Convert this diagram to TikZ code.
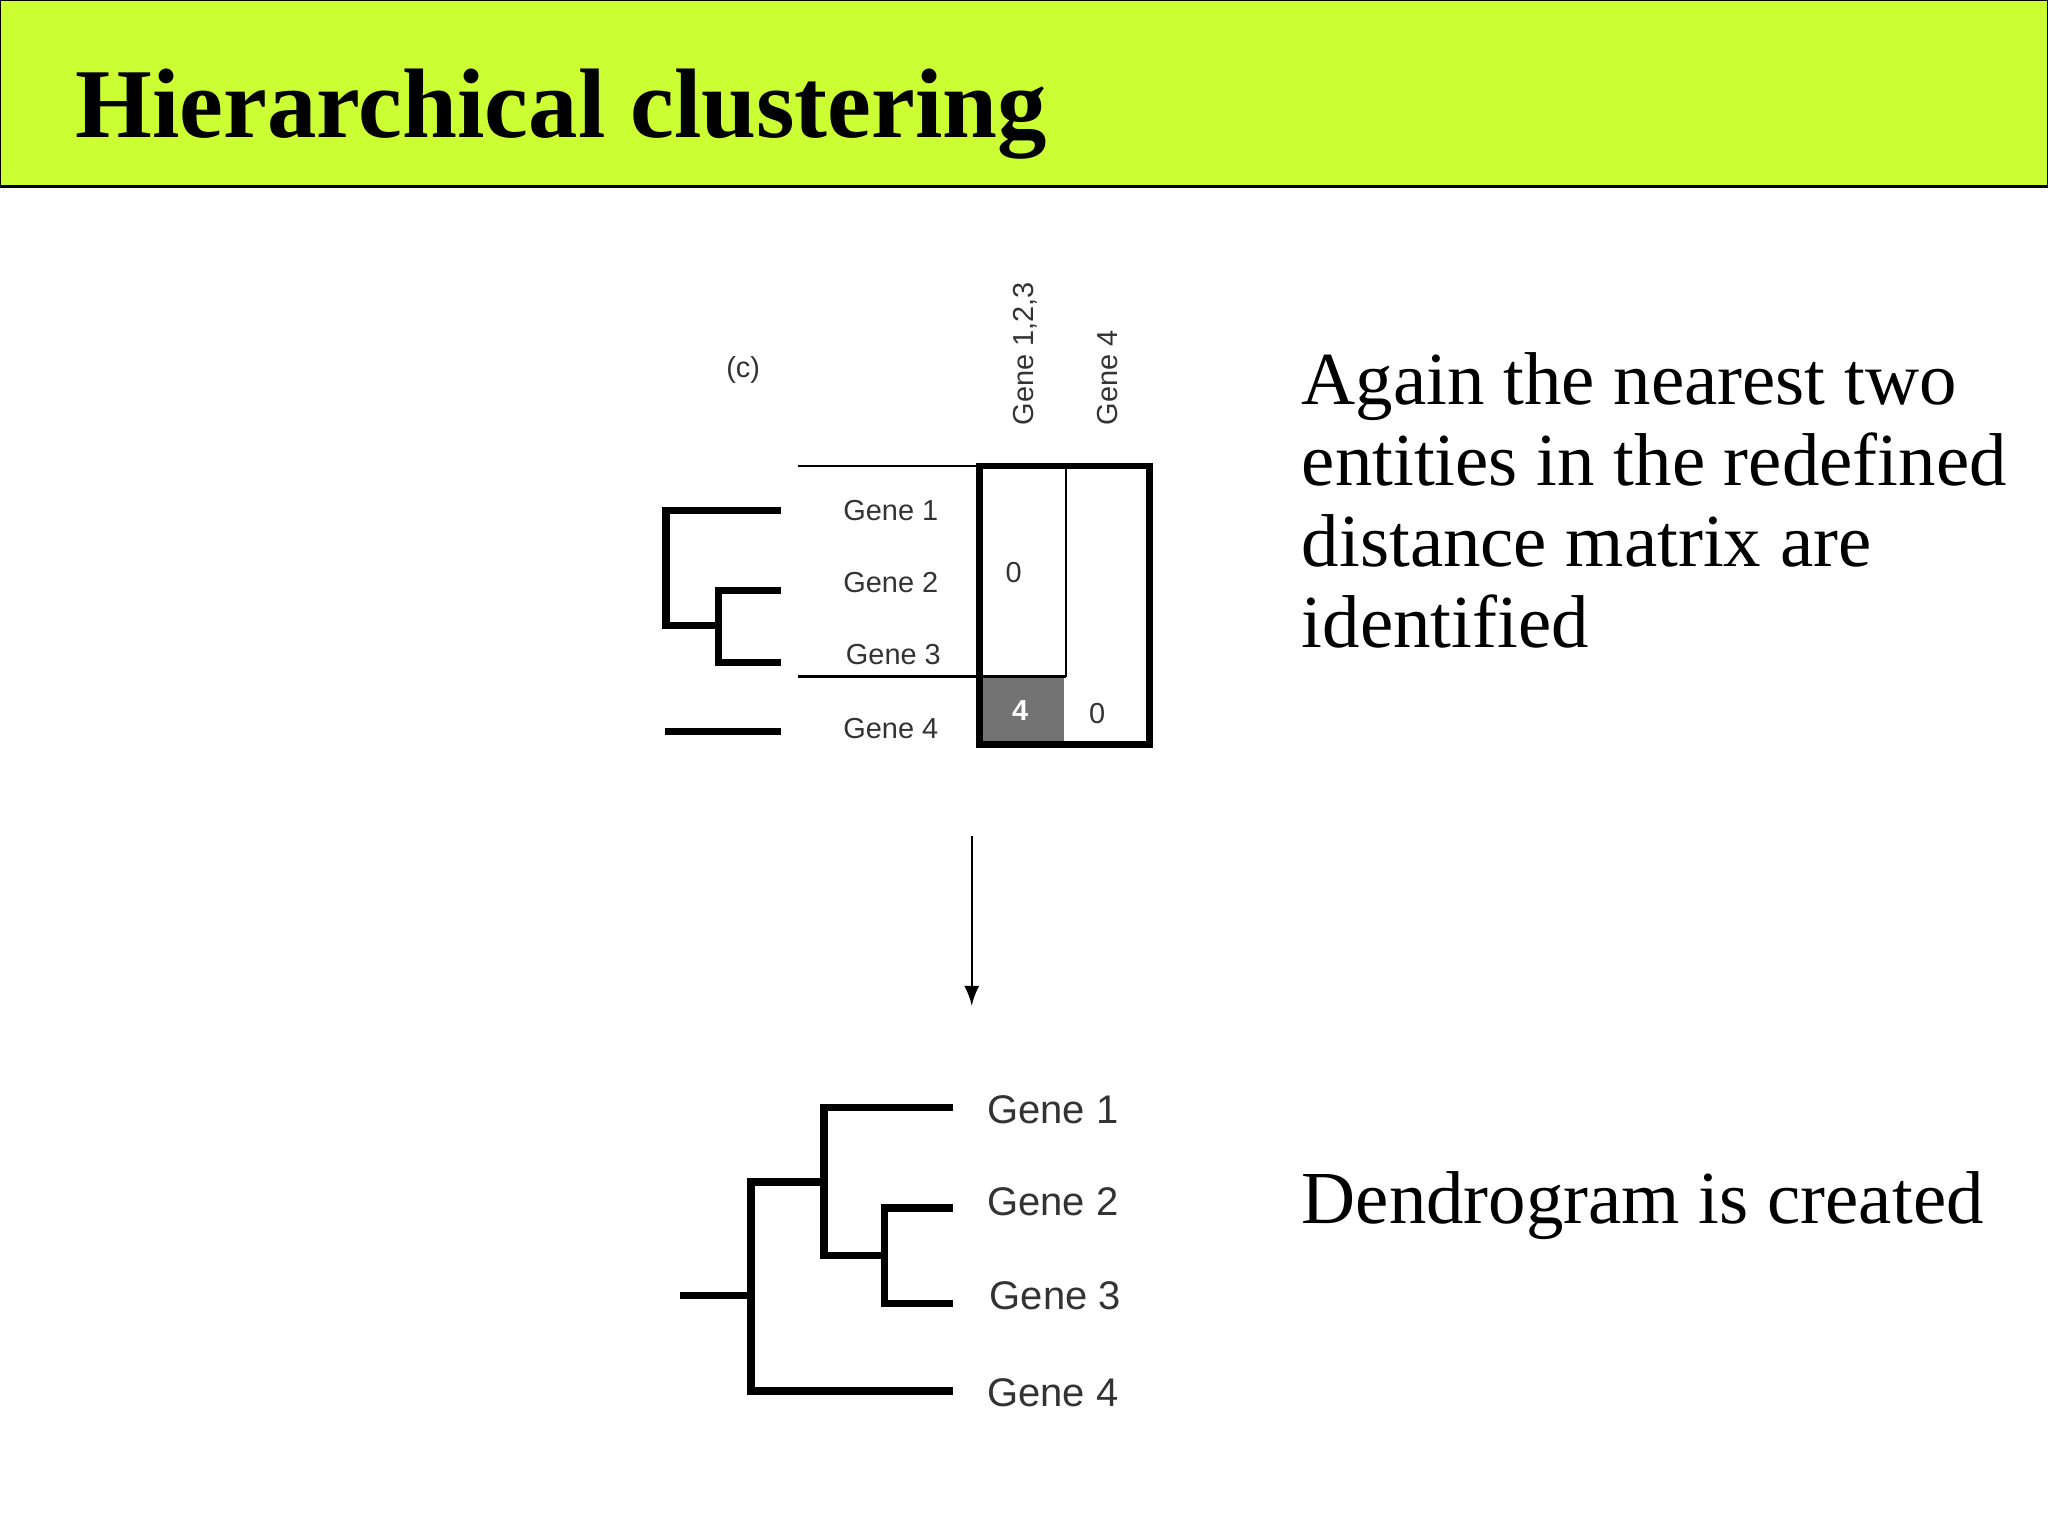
\documentclass[tikz,border=0pt]{standalone}
\usepackage{fontspec}
\setmainfont{Liberation Serif}
\newfontfamily\arialf{Liberation Sans}
\definecolor{banner}{HTML}{CCFF33}
\begin{document}
\begin{tikzpicture}[x=0.01cm,y=-0.01cm,
  dend/.style={line width=1.6pt},
  thin/.style={line width=0.5pt},
  sg/.style={font=\arialf\fontsize{6.3}{7}\selectfont,text=black!80},
  bg/.style={font=\arialf\fontsize{8.7}{10}\selectfont,text=black!80},
  rt/.style={font=\fontsize{16.3}{17.6}\selectfont,anchor=base west,inner sep=0pt}]
\useasboundingbox (0,0) rectangle (1568,1176);
\fill[banner,draw=black,line width=0.6pt] (0,0) rectangle (1568,143);
\node[anchor=base west,inner sep=0pt,font=\bfseries\fontsize{21.5}{24}\selectfont] (title) at (57,105) {Hierarchical clustering};
% upper
\node[sg] (c) at (569,283) {(c)};
\node[sg,rotate=90,anchor=west] (c1) at (785,338) {Gene 1,2,3};
\node[sg,rotate=90,anchor=west] (c2) at (848,338) {Gene 4};
\fill[black!55] (750,518) rectangle (815,570);
\draw[thin] (816,357) -- (816,518);
\draw[thin] (750,518) -- (816,518);
\draw[line width=1.4pt] (750,357) rectangle (880,570);
\draw[thin] (611,357) -- (750,357);
\draw[thin] (611,518) -- (750,518);
\node[sg,text=white,font=\arialf\bfseries\fontsize{6.3}{7}\selectfont] (v4) at (781,544) {4};
\node[sg] (v0a) at (776,438) {0};
\node[sg] (v0b) at (840,546) {0};
\node[sg] (g1) at (682,391) {Gene 1};
\node[sg] (g2) at (682,446) {Gene 2};
\node[sg] (g3) at (684,501) {Gene 3};
\node[sg] (g4) at (682,558) {Gene 4};
\draw[dend] (598,391) -- (510,391) -- (510,479) -- (550,479);
\draw[dend] (598,452) -- (550,452) -- (550,507) -- (598,507);
\draw[dend] (509,560) -- (598,560);
% arrow
\coordinate (a1) at (744,640); \coordinate (a2) at (744,770);
\draw[thin,-latex] (a1) -- (a2);
% lower
\draw[dend] (730,848) -- (631,848) -- (631,961) -- (677,961);
\draw[dend] (730,925) -- (677,925) -- (677,998) -- (730,998);
\draw[dend] (631,905) -- (575,905) -- (575,1065) -- (730,1065);
\draw[dend] (521,992) -- (575,992);
\node[bg] (h1) at (806,850) {Gene 1};
\node[bg] (h2) at (806,920) {Gene 2};
\node[bg] (h3) at (808,992) {Gene 3};
\node[bg] (h4) at (806,1066) {Gene 4};
% right text
\node[rt] (t1) at (996,310) {Again the nearest two};
\node[rt] (t2) at (996,372) {entities in the redefined};
\node[rt] (t3) at (996,434) {distance matrix are};
\node[rt] (t4) at (996,496) {identified};
\node[rt] (t5) at (996,937) {Dendrogram is created};
\end{tikzpicture}
\end{document}
